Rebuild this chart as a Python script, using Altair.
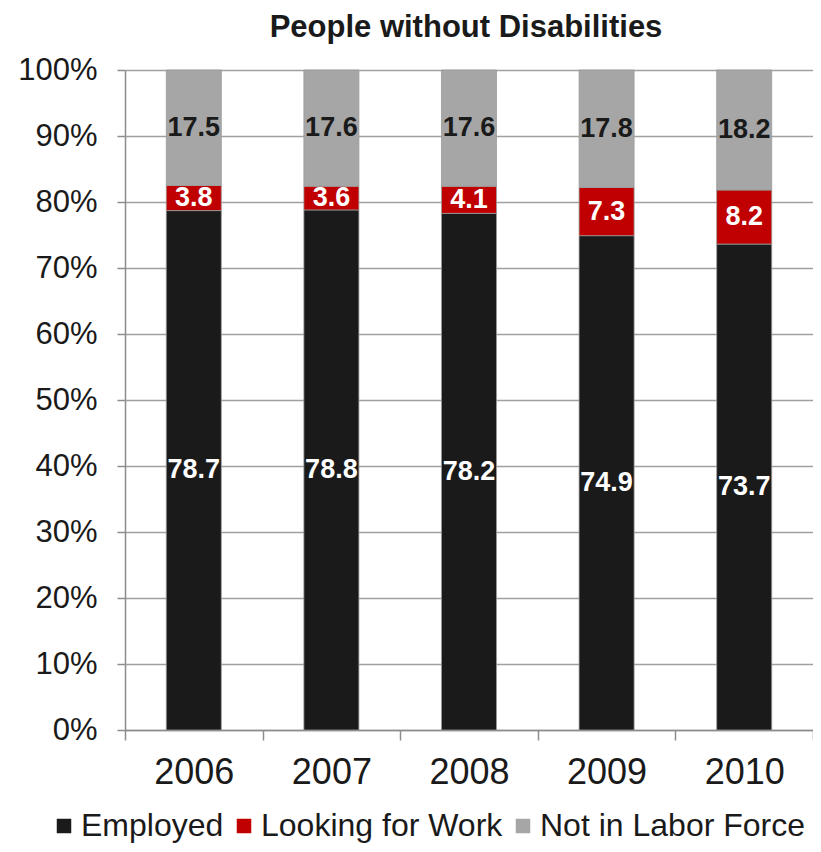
import altair as alt
import pandas as pd

years = ["2006", "2007", "2008", "2009", "2010"]
employed = [78.7, 78.8, 78.2, 74.9, 73.7]
looking = [3.8, 3.6, 4.1, 7.3, 8.2]
not_in_lf = [17.5, 17.6, 17.6, 17.8, 18.2]
categories = ["Employed", "Looking for Work", "Not in Labor Force"]
colors = ["#1a1a1a", "#c00000", "#a6a6a6"]
y_ticks = [0, 0.1, 0.2, 0.3, 0.4, 0.5, 0.6, 0.7, 0.8, 0.9, 1.0]

rows = []
for i, yr in enumerate(years):
    for k, (cat, vals) in enumerate(zip(categories, [employed, looking, not_in_lf])):
        rows.append({"year": yr, "category": cat, "value": vals[i], "order": k})
df = pd.DataFrame(rows)

FONT = "Liberation Sans"
GRAY = "#8c8c8c"

base = alt.Chart(df).transform_stack(
    stack="value",
    groupby=["year"],
    as_=["y0", "y1"],
    sort=[alt.SortField("order", order="ascending")],
    offset="normalize",
).transform_calculate(mid="(datum.y0 + datum.y1) / 2")

x_enc = alt.X(
    "year:N",
    sort=years,
    scale=alt.Scale(paddingInner=0, paddingOuter=0),
    axis=alt.Axis(
        title=None,
        labelAngle=0,
        labelFontSize=36,
        labelColor="#1a1a1a",
        tickBand="extent",
        tickSize=10,
        tickColor=GRAY,
        tickWidth=1.5,
        domainColor=GRAY,
        domainWidth=1.5,
        labelPadding=15,
        grid=False,
    ),
)

bars = base.mark_bar(width={"band": 0.4}, stroke="#9a9a9a", strokeWidth=0.8).encode(
    x=x_enc,
    y=alt.Y(
        "y0:Q",
        scale=alt.Scale(domain=[0, 1]),
        axis=alt.Axis(
            title=None,
            format=".0%",
            values=y_ticks,
            labelFontSize=31,
            labelColor="#1a1a1a",
            tickSize=8,
            tickColor=GRAY,
            tickWidth=1.5,
            domainColor=GRAY,
            domainWidth=1.5,
            labelPadding=20,
            grid=True,
            gridColor="#a0a0a0",
            gridWidth=1.5,
        ),
    ),
    y2="y1:Q",
    color=alt.Color(
        "category:N",
        scale=alt.Scale(domain=categories, range=colors),
        sort=categories,
        legend=alt.Legend(
            title=None,
            orient="none",
            legendX=-77,
            legendY=740,
            padding=0,
            direction="horizontal",
            symbolType="square",
            symbolSize=210,
            symbolStrokeWidth=0,
            labelFontSize=32,
            labelColor="#1a1a1a",
            labelOffset=1,
            columnPadding=4,
            labelLimit=500,
        ),
    ),
)

white_labels = base.transform_filter(
    "datum.category != 'Not in Labor Force'"
).mark_text(fontSize=27, fontWeight="bold", font=FONT, color="white", baseline="middle").encode(
    x=alt.X("year:N", sort=years),
    y=alt.Y("mid:Q"),
    text=alt.Text("value:Q", format=".1f"),
)

dark_labels = base.transform_filter(
    "datum.category == 'Not in Labor Force'"
).mark_text(fontSize=27, fontWeight="bold", font=FONT, color="#1a1a1a", baseline="middle").encode(
    x=alt.X("year:N", sort=years),
    y=alt.Y("mid:Q"),
    text=alt.Text("value:Q", format=".1f"),
)

chart = (
    alt.layer(bars, white_labels, dark_labels)
    .properties(
        width=688,
        height=660,
        autosize=alt.AutoSizeParams(type="none"),
        padding={"left": 117, "top": 62, "right": 0, "bottom": 114},
        title=alt.TitleParams(
            "People without Disabilities",
            fontSize=31,
            fontWeight="bold",
            font=FONT,
            color="#1a1a1a",
            anchor="middle",
            frame="group",
            dx=-3,
            offset=10,
        ),
    )
    .configure(font=FONT)
    .configure_view(stroke=None)
)

chart.save("out.html", embed_options={"renderer": "svg", "actions": False})
